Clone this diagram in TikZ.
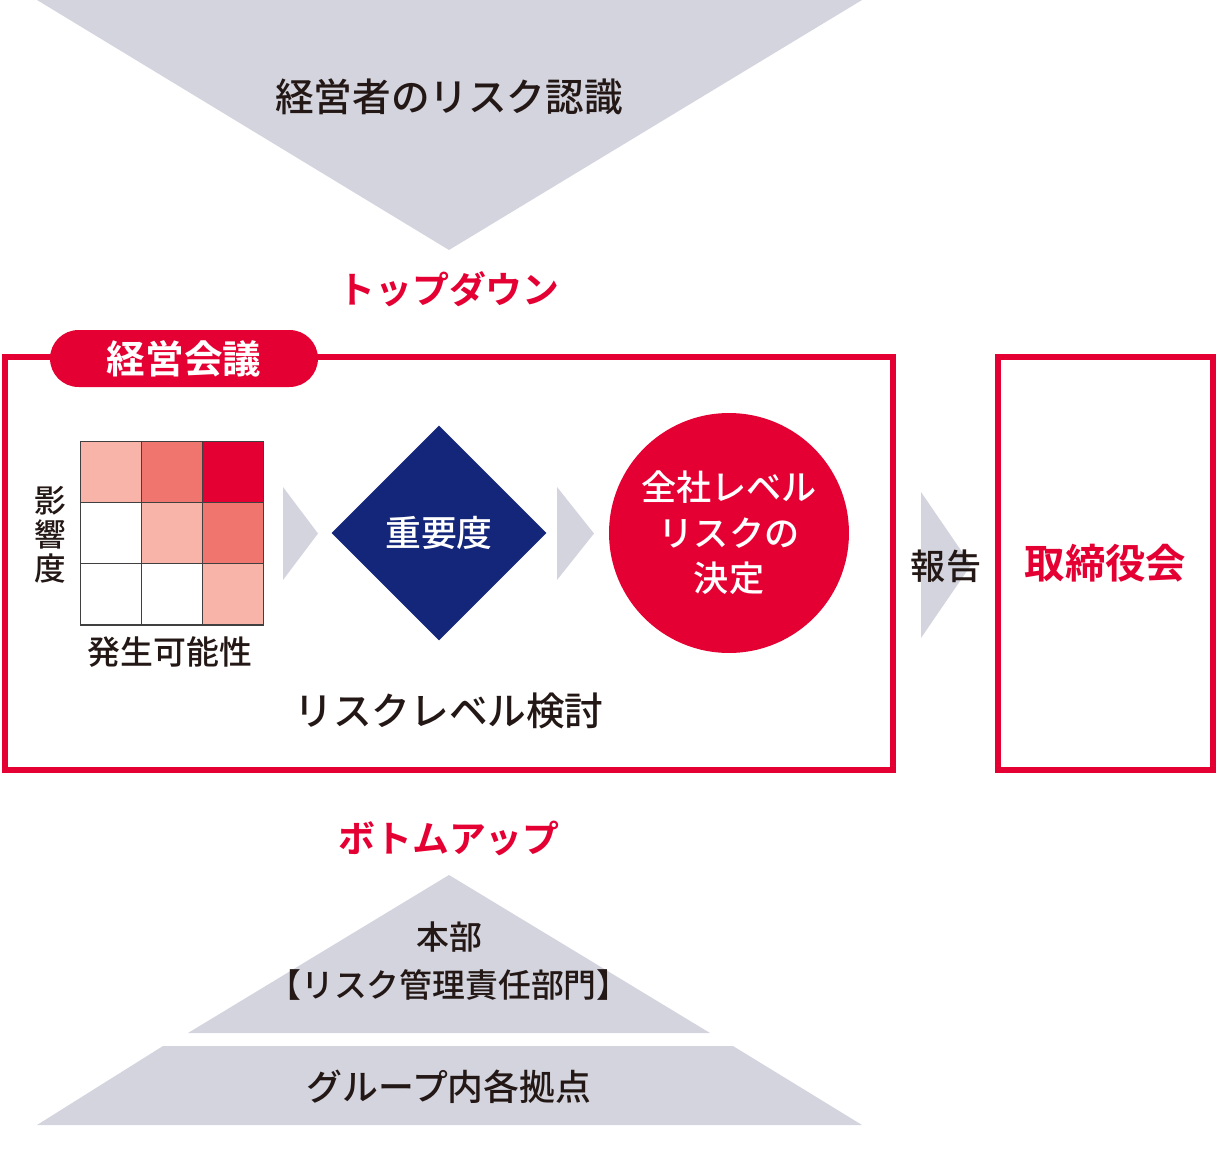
\documentclass[tikz,border=0pt]{standalone}
\usepackage{fontspec}
\setmainfont{Noto Sans CJK JP}[UprightFont=* Medium, BoldFont=* Bold]
\usetikzlibrary{shapes.geometric}

\definecolor{riskred}{HTML}{E50033}
\definecolor{navy}{HTML}{14267A}
\definecolor{flowgray}{HTML}{D3D4DE}
\definecolor{pinkA}{HTML}{F8B4A9}
\definecolor{pinkB}{HTML}{F0756F}
\definecolor{ink}{HTML}{231815}

\newcommand{\fs}[2]{\fontsize{#1}{#2}\selectfont}

\begin{document}
\begin{tikzpicture}[x=0.02cm, y=-0.02cm,
        txt/.style = {text=ink, inner sep=0pt, align=center},
        redtxt/.style = {text=riskred, inner sep=0pt, align=center},
        frame/.style = {draw=riskred, line width=3pt, minimum height=82.6mm, inner sep=0pt},
        tri/.style = {fill=flowgray}]
        \useasboundingbox (0,0) rectangle (1225,1150);

        % top-down
        \fill[tri] (37,0) -- (862,0) -- (449,250) -- cycle;
        \node[txt, font=\fs{22pt}{26pt}] (view) at (449,97) {経営者のリスク認識};
        \node[redtxt, font=\bfseries\fs{21pt}{25pt}] (down) at (449,289) {トップダウン};

        % frames
        \node[frame, minimum width=177.6mm] (meeting) at (449,563.5) {};
        \node[frame, minimum width=43mm] (board) at (1105.5,563.5) {};
        \node[fill=riskred, text=white, rounded corners=5.7mm, minimum width=53.6mm,
              minimum height=11.4mm, inner sep=0pt, font=\bfseries\fs{22pt}{26pt}] (tag) at (184,358.5) {経営会議};

        % matrix
        \foreach \r/\row in {0/{pinkA,pinkB,riskred}, 1/{white,pinkA,pinkB}, 2/{white,white,pinkA}} {
            \foreach \col [count=\c from 0] in \row {
                \node[draw=black!75, fill=\col, minimum size=12.27mm, inner sep=0pt, line width=0.6pt]
                    (c-\r-\c) at (110.7+\c*61.3, 471.7+\r*61.3) {};
            }
        }
        \node[txt, font=\fs{18pt}{19.5pt}] (impact) at (50,535) {影\\響\\度};
        \node[txt, font=\fs{18.7pt}{22pt}] (prob) at (170,652) {発生可能性};

        \fill[tri] (283,487) -- (318,533.5) -- (283,580) -- cycle;
        \node[diamond, fill=navy, text=white, minimum width=43mm, minimum height=43mm,
              inner sep=0pt, aspect=1, font=\fs{20.4pt}{24pt}] (weight) at (439,533) {重要度};
        \fill[tri] (557,487) -- (594,533.5) -- (557,580) -- cycle;
        \node[circle, fill=riskred, text=white, minimum size=48mm, inner sep=0pt, align=center,
              font=\fs{20pt}{26pt}] (decide) at (729,533) {全社レベル\\リスクの\\決定};
        \node[txt, font=\fs{22pt}{26pt}] (study) at (449,711) {リスクレベル検討};

        % report
        \fill[tri] (921,492) -- (971,565) -- (921,638) -- cycle;
        \node[txt, font=\fs{20pt}{24pt}] (report) at (946,566) {報告};
        \node[redtxt, font=\bfseries\fs{23pt}{27pt}] at (board) {取締役会};

        % bottom-up
        \node[redtxt, font=\bfseries\fs{21pt}{25pt}] (up) at (449,838) {ボトムアップ};
        \fill[tri] (449,875) -- (710,1033) -- (188,1033) -- cycle;
        \node[txt, font=\fs{18.7pt}{27pt}] (hq) at (449,961) {本部\\【リスク管理責任部門】};
        \fill[tri] (163,1046) -- (733,1046) -- (862,1125) -- (37,1125) -- cycle;
        \node[txt, font=\fs{20.4pt}{24pt}] (sites) at (449,1087) {グループ内各拠点};
    \end{tikzpicture}
\end{document}
